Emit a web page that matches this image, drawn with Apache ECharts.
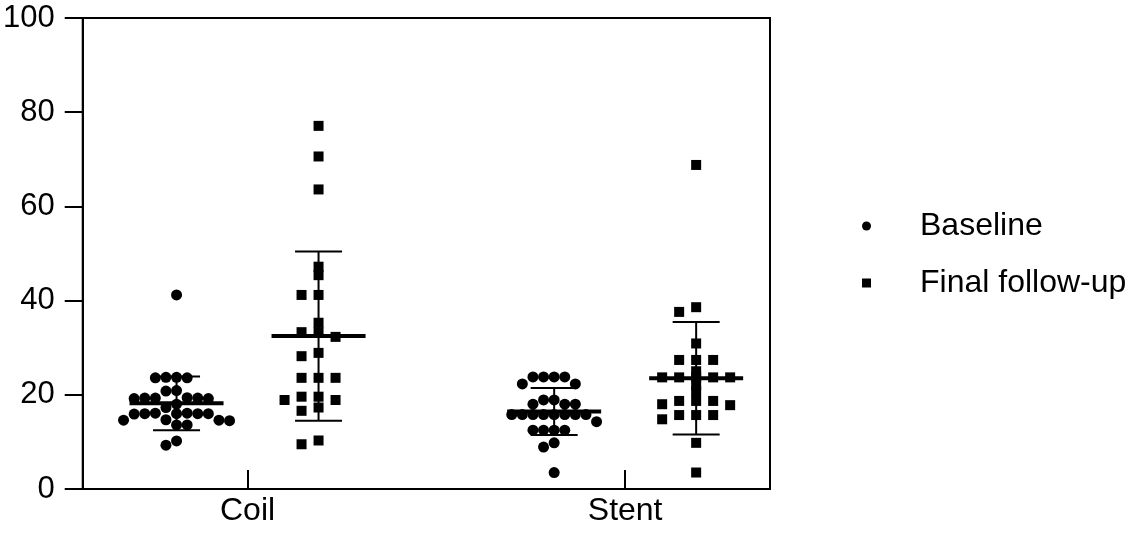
<!DOCTYPE html>
<html><head><meta charset="utf-8">
<script src="https://cdn.jsdelivr.net/npm/echarts@6/dist/echarts.min.js"></script>
<style>html,body{margin:0;padding:0;background:#fff}#c{width:1145px;height:533px}</style>
</head><body><div id="c"></div>
<script>
const categories = ['Coil', 'Stent'];
const seriesNames = ['Baseline', 'Final follow-up'];
const yTicks = [0, 20, 40, 60, 80, 100];

const coilBaseline = [41.2, 23.7, 23.6, 23.6, 23.7, 20.9, 20.8, 19.4, 19.3, 19.3, 19.2, 19.3, 19.2, 18.0, 17.3,
  16.0, 16.1, 15.9, 16.0, 16.0, 16.1, 16.0, 14.6, 14.6, 14.5, 14.7, 13.6, 13.6, 10.2, 9.3];
const coilFinal = [77.1, 70.6, 63.6, 47.2, 45.4, 41.2, 41.2, 35.3, 33.3, 33.3, 32.3, 28.9, 28.2, 23.6, 23.6, 23.6,
  19.6, 19.6, 18.9, 18.9, 17.3, 16.6, 10.3, 9.5];
const stentBaseline = [23.8, 23.8, 23.8, 23.8, 22.3, 22.3, 18.9, 18.9, 18.0, 18.0, 18.0, 15.8, 15.8, 15.8, 15.8,
  15.8, 15.8, 15.8, 15.8, 14.3, 12.5, 12.5, 12.5, 12.5, 9.8, 8.9, 3.5];
const stentFinal = [68.8, 38.6, 37.6, 30.9, 27.4, 27.4, 27.4, 25.0, 23.7, 23.7, 23.7, 23.7, 23.7, 22.0, 20.7,
  18.7, 18.7, 18.7, 18.0, 17.8, 15.7, 15.7, 15.7, 14.8, 9.8, 3.5];

const groups = [
  { cat: 0, series: 0, values: coilBaseline },
  { cat: 0, series: 1, values: coilFinal },
  { cat: 1, series: 0, values: stentBaseline },
  { cat: 1, series: 1, values: stentFinal }
];

const FONT = 'Liberation Sans, Arial, sans-serif';
const chart = echarts.init(document.getElementById('c'));

const baseOption = {
  animation: false,
  backgroundColor: '#fff',
  grid: { left: 82, top: 18, right: 375, bottom: 44, show: true, borderColor: '#000', borderWidth: 2 },
  xAxis: {
    type: 'value', min: 0.5635, max: 2.3836,
    splitLine: { show: false },
    axisLine: { lineStyle: { color: '#000', width: 2 } },
    axisTick: { show: true, inside: true, length: 19, customValues: [1, 2], lineStyle: { color: '#000', width: 2 } },
    axisLabel: { customValues: [1, 2], formatter: v => categories[Math.round(v) - 1] || '',
      color: '#000', fontSize: 32, fontFamily: FONT, margin: 6 }
  },
  yAxis: {
    type: 'value', min: 0, max: 100, interval: 20,
    splitLine: { show: false },
    axisLine: { show: true, lineStyle: { color: '#000', width: 2 } },
    axisTick: { show: true, length: 18, lineStyle: { color: '#000', width: 2 } },
    axisLabel: { color: '#000', fontSize: 31, fontFamily: FONT, margin: 28,
      formatter: v => yTicks.indexOf(v) >= 0 ? String(v) : '' }
  },
  legend: {
    data: [{ name: seriesNames[0], icon: 'circle' }, { name: seriesNames[1], icon: 'rect' }],
    orient: 'vertical', left: 857, top: 205, itemWidth: 9, itemHeight: 9, itemGap: 25,
    textStyle: { color: '#000', fontSize: 32, fontFamily: FONT, padding: [0, 0, 0, 44] }
  },
  series: []
};
chart.setOption(baseOption);

// scale factors from the library's axes
const p0 = chart.convertToPixel({ gridIndex: 0 }, [1, 0]);
const p1 = chart.convertToPixel({ gridIndex: 0 }, [2, 1]);
const pxPerX = p1[0] - p0[0];
const pxPerY = p0[1] - p1[1];
const groupOffset = 71 / pxPerX;

// slot-based dot-plot layout: each point takes the nearest free column slot at its height
function swarm(values, slotW, minDy) {
  const order = values.map((v, i) => i).sort((a, b) => values[b] - values[a]);
  const placed = [];
  const out = new Array(values.length);
  for (const i of order) {
    const y = values[i] * pxPerY;
    let chosen = 0;
    for (let n = 0; n < 40; n++) {
      const k = n === 0 ? 0 : (n % 2 ? -Math.ceil(n / 2) : Math.ceil(n / 2));
      const busy = placed.some(p => p.k === k && Math.abs(p.y - y) < minDy);
      if (!busy) { chosen = k; break; }
    }
    placed.push({ k: chosen, y });
    out[i] = chosen * slotW;
  }
  return out;
}

function stats(v) {
  const m = v.reduce((s, x) => s + x, 0) / v.length;
  const sd = Math.sqrt(v.reduce((s, x) => s + (x - m) * (x - m), 0) / (v.length - 1));
  return [m, sd];
}

const scatterData = [[], []];
const barData = [];
groups.forEach(g => {
  const cx = g.cat + 1 + (g.series === 0 ? -groupOffset : groupOffset);
  const offs = g.series === 0 ? swarm(g.values, 10.6, 9) : swarm(g.values, 17, 6);
  g.values.forEach((v, i) => scatterData[g.series].push([cx + offs[i] / pxPerX, v]));
  const [m, sd] = stats(g.values);
  barData.push([cx, m, sd]);
});

chart.setOption({
  series: [
    { name: seriesNames[0], type: 'scatter', symbol: 'circle', symbolSize: 11,
      itemStyle: { color: '#000', opacity: 1 }, data: scatterData[0], z: 2 },
    { name: seriesNames[1], type: 'scatter', symbol: 'rect', symbolSize: 10,
      itemStyle: { color: '#000', opacity: 1 }, data: scatterData[1], z: 2 },
    { type: 'custom', name: 'meanSD', z: 3, silent: true, data: barData,
      renderItem: (params, api) => {
        const cx = api.value(0), m = api.value(1), sd = api.value(2);
        const pm = api.coord([cx, m]), pt = api.coord([cx, m + sd]), pb = api.coord([cx, m - sd]);
        const hm = 47, hc = 23.5;
        const st = w => ({ stroke: '#000', lineWidth: w });
        return { type: 'group', children: [
          { type: 'line', shape: { x1: pm[0] - hm, y1: pm[1], x2: pm[0] + hm, y2: pm[1] }, style: st(4) },
          { type: 'line', shape: { x1: pt[0], y1: pt[1], x2: pb[0], y2: pb[1] }, style: st(2) },
          { type: 'line', shape: { x1: pt[0] - hc, y1: pt[1], x2: pt[0] + hc, y2: pt[1] }, style: st(2) },
          { type: 'line', shape: { x1: pb[0] - hc, y1: pb[1], x2: pb[0] + hc, y2: pb[1] }, style: st(2) }
        ] };
      } }
  ]
});
</script></body></html>
